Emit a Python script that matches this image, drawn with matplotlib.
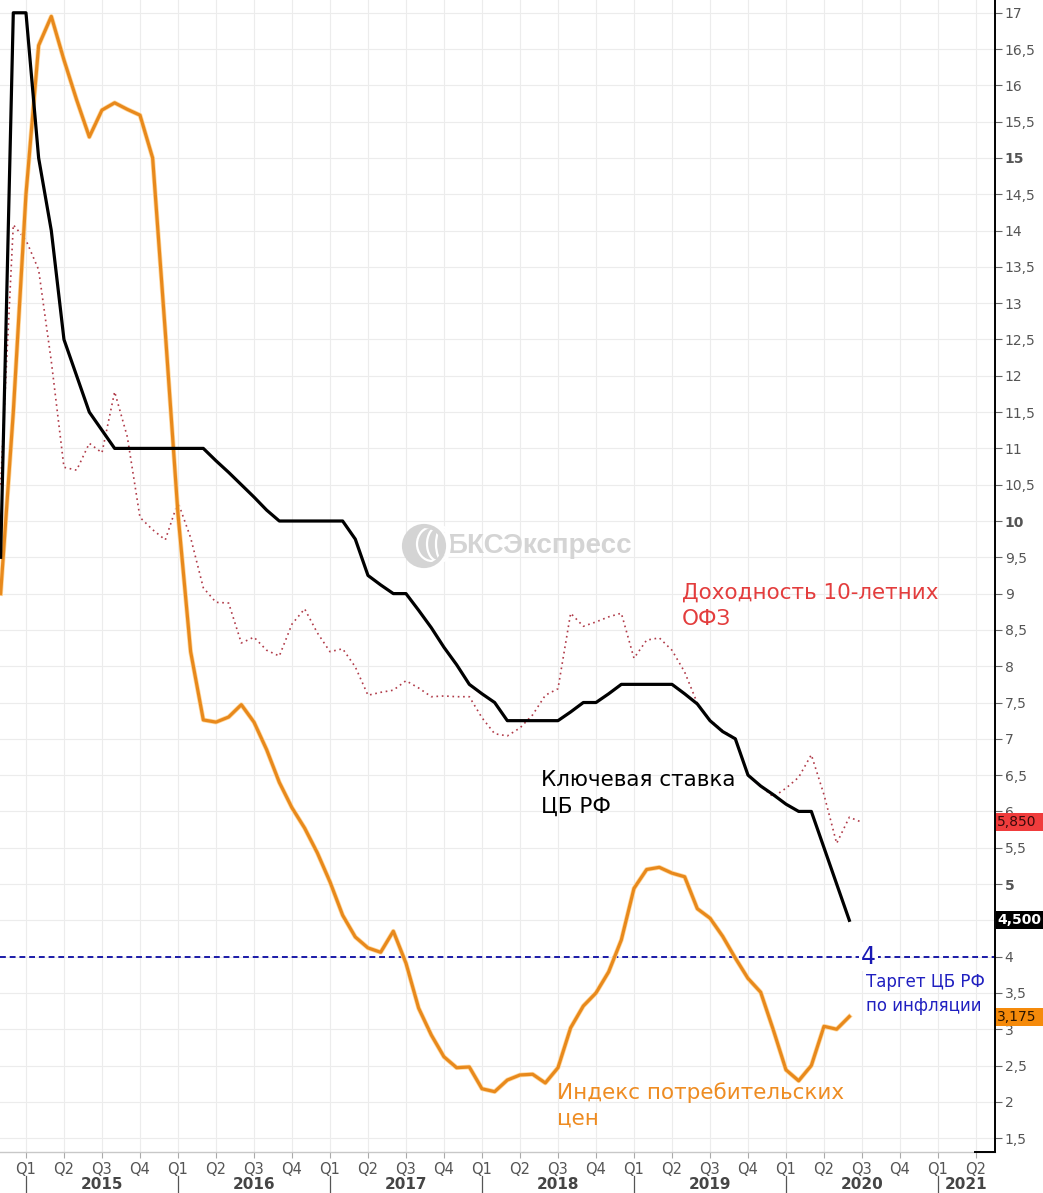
import matplotlib
matplotlib.use('Agg')
import matplotlib.pyplot as plt
import matplotlib.transforms as mtransforms
import matplotlib.patheffects as pe
from matplotlib.patches import Rectangle, Ellipse
import numpy as np

plt.rcParams['font.family'] = ['DejaVu Sans']

# ---- data: monthly, month index 0 = Jan 2015 ----
first_month = -2  # Nov 2014
key_rate = [9.5, 17.0, 17.0, 15.0, 14.0, 12.5, 12.0, 11.5, 11.25, 11.0,
            11.0, 11.0, 11.0, 11.0, 11.0, 11.0, 11.0, 10.83, 10.67, 10.5,
            10.33, 10.15, 10.0, 10.0, 10.0, 10.0, 10.0, 10.0, 9.75, 9.25,
            9.12, 9.0, 9.0, 8.77, 8.53, 8.26, 8.02, 7.75, 7.62, 7.5,
            7.25, 7.25, 7.25, 7.25, 7.25, 7.37, 7.5, 7.5, 7.62, 7.75,
            7.75, 7.75, 7.75, 7.75, 7.62, 7.48, 7.25, 7.1, 7.0, 6.5,
            6.35, 6.23, 6.1, 6.0, 6.0, 5.5, 5.0, 4.5]
cpi = [9.0, 11.5, 14.5, 16.55, 16.95, 16.35, 15.8, 15.29, 15.66, 15.76,
       15.67, 15.59, 15.0, 12.6, 10.1, 8.2, 7.26, 7.23, 7.3, 7.47,
       7.23, 6.85, 6.4, 6.05, 5.77, 5.43, 5.03, 4.57, 4.27, 4.12,
       4.06, 4.35, 3.91, 3.29, 2.92, 2.62, 2.47, 2.48, 2.18, 2.14,
       2.3, 2.37, 2.38, 2.26, 2.47, 3.02, 3.32, 3.5, 3.79, 4.23,
       4.94, 5.2, 5.23, 5.15, 5.1, 4.66, 4.53, 4.28, 3.98, 3.7,
       3.51, 2.99, 2.44, 2.29, 2.5, 3.04, 3.0, 3.175]
ofz10 = [10.5, 14.08, 13.87, 13.46, 12.2, 10.74, 10.7, 11.07, 10.94, 11.78,
         11.16, 10.05, 9.88, 9.74, 10.26, 9.77, 9.08, 8.88, 8.87, 8.32,
         8.4, 8.22, 8.14, 8.58, 8.79, 8.46, 8.2, 8.24, 7.99, 7.6,
         7.64, 7.67, 7.8, 7.7, 7.58, 7.59, 7.58, 7.58, 7.29, 7.07,
         7.04, 7.15, 7.33, 7.6, 7.69, 8.73, 8.55, 8.61, 8.68, 8.73,
         8.11, 8.36, 8.39, 8.22, 7.92, 7.49, 7.26, 7.11, 7.01, 6.5,
         6.35, 6.2, 6.32, 6.47, 6.78, 6.23, 5.56, 5.92, 5.85]
target = 4.0
years = [2015, 2016, 2017, 2018, 2019, 2020, 2021]
quarter_labels = ['Q1', 'Q2', 'Q3', 'Q4']
last_labels = ['5,850', '4,500', '3,175']

m_key = np.arange(first_month, first_month + len(key_rate))
m_cpi = np.arange(first_month, first_month + len(cpi))
m_ofz = np.arange(first_month, first_month + len(ofz10))

W, H = 1043, 1193
fig = plt.figure(figsize=(W / 100, H / 100), dpi=100)
fig.patch.set_facecolor('white')
ax = fig.add_axes([0, 41 / H, 995 / W, 1152 / H])
ax.set_xlim(-2.05, 76.5)
ax.set_ylim(1.309, 17.176)

# grid
for q in range(-3, 77, 3):
    ax.axvline(q, color='#ececec', lw=0.8, zorder=0)
for v in np.arange(1.5, 17.01, 0.5):
    ax.axhline(v, color='#ececec', lw=0.8, zorder=0)

# watermark
ax.text(447 / 995, 1 - 546 / 1152, 'БКСЭкспресс', transform=ax.transAxes,
        fontsize=20, fontweight='bold', family=['Liberation Sans'],
        color='#d4d4d4', ha='left', va='center', zorder=1)
lx, ly = 424 / 995, 1 - 546 / 1152
ax.add_patch(Ellipse((lx, ly), 40 / 995, 40 / 1152, transform=ax.transAxes,
                     facecolor='#d4d4d4', edgecolor='none', zorder=1))
for dx, w in [(8, 30), (14, 22), (19, 14)]:
    ax.add_patch(Ellipse((lx + dx / 995, ly + 2 / 1152), w / 995, 34 / 1152,
                         transform=ax.transAxes, facecolor='none',
                         edgecolor='white', lw=1.6, zorder=1))
ax.add_patch(Ellipse((lx, ly), 40 / 995, 40 / 1152, transform=ax.transAxes,
                     facecolor='none', edgecolor='#d4d4d4', lw=3, zorder=1))

# target line
ax.axhline(target, color='#1a1aa8', lw=1.4, dashes=(3, 2), zorder=2)

# series
ax.plot(m_ofz, ofz10, color='#b03a48', lw=1.2, dashes=(1, 2.2), zorder=3)
ax.plot(m_cpi, cpi, color='#e8891c', lw=2.3, zorder=4,
        path_effects=[pe.Stroke(linewidth=3.4, foreground='#ffd9a0'), pe.Normal()])
ax.plot(m_key, key_rate, color='black', lw=2.3, zorder=5)

# annotations
ax.text(66.5, 4.0, '4', color='#1a1ab4', fontsize=17, ha='center', va='center',
        zorder=6, bbox=dict(facecolor='white', edgecolor='none', pad=1.5))
ax.text(66.3, 3.49, 'Таргет ЦБ РФ\nпо инфляции', color='#2020c0', fontsize=12,
        ha='left', va='center', linespacing=1.45, zorder=6)
ax.text(51.8, 8.83, 'Доходность 10-летних\nОФЗ', color='#e33d3d', fontsize=15.5,
        ha='left', va='center', linespacing=1.38, zorder=6)
ax.text(40.65, 6.25, 'Ключевая ставка\nЦБ РФ', color='black', fontsize=15.5,
        ha='left', va='center', linespacing=1.38, zorder=6)
ax.text(41.9, 1.95, 'Индекс потребительских\nцен', color='#ee8c22', fontsize=15.5,
        ha='left', va='center', linespacing=1.38, zorder=6)

# spines
for s in ['left', 'top']:
    ax.spines[s].set_visible(False)
ax.spines['right'].set_color('black')
ax.spines['right'].set_linewidth(1.4)
ax.spines['bottom'].set_color('#c8c8c8')
ax.spines['bottom'].set_linewidth(1.0)
ax.plot([0.98, 1.0], [0, 0], transform=ax.transAxes, color='black', lw=1.4,
        clip_on=False, zorder=7)

# y axis on right (the 4,5 label is hidden under the last-value box)
yt = np.arange(1.5, 17.01, 0.5)
ax.yaxis.tick_right()
ax.set_yticks(yt)
ylabels = [('' if v == 4.5 else ('%g' % v).replace('.', ',')) for v in yt]
ax.set_yticklabels(ylabels)
for lab, v in zip(ax.get_yticklabels(), yt):
    if v in (5, 10, 15):
        lab.set_fontweight('bold')
ax.tick_params(axis='y', direction='out', length=5, width=0.8, color='#666',
               labelcolor='#555', labelsize=10, pad=2)

# x axis: quarters
qpos = np.arange(0, 76, 3)
ax.set_xticks(qpos)
ax.set_xticklabels([quarter_labels[(int(q) // 3) % 4] for q in qpos])
ax.tick_params(axis='x', direction='out', length=4, width=0.8, color='#aaa',
               labelcolor='#555', labelsize=10.5, pad=3)

tr = mtransforms.blended_transform_factory(ax.transData, ax.transAxes)
xmax = ax.get_xlim()[1]
for i, y in enumerate(years):
    s = (y - 2015) * 12
    e = min(s + 12, xmax)
    ax.text((s + e) / 2, -0.0285, str(y), transform=tr, ha='center', va='center',
            fontsize=11, fontweight='bold', color='#454545')
    ax.plot([s, s], [-0.021, -0.036], transform=tr, color='#555', lw=0.9,
            clip_on=False)

# last value boxes on the right
inv = fig.transFigure.inverted()
for val, txt, bg, fg, wt in [(ofz10[-1], last_labels[0], '#f03c3c', '#3a0a0a', 'normal'),
                             (key_rate[-1], last_labels[1], 'black', 'white', 'bold'),
                             (cpi[-1], last_labels[2], '#f58a0a', '#2a1400', 'normal')]:
    yfig = inv.transform(ax.transData.transform((0, val)))[1]
    hfig = 18 / H
    fig.add_artist(Rectangle((996 / W, yfig - hfig / 2), 47 / W, hfig,
                             transform=fig.transFigure, facecolor=bg,
                             edgecolor='none', zorder=10))
    fig.text(997 / W, yfig, txt, ha='left', va='center', fontsize=10,
             color=fg, fontweight=wt, zorder=11)

fig.savefig('out.png', dpi=100, facecolor='white')
